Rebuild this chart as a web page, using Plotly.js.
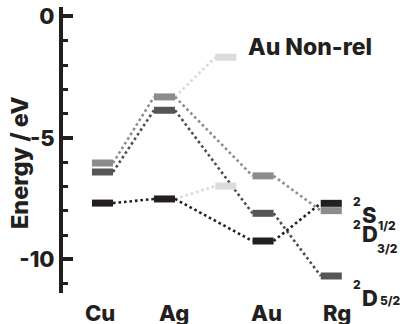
<!DOCTYPE html>
<html>
<head>
<meta charset="utf-8">
<script src="https://cdn.plot.ly/plotly-3.0.1.min.js"></script>
<style>html,body{margin:0;padding:0;background:#fff;}#chart{width:402px;height:324px;}</style>
</head>
<body>
<div id="chart"></div>
<script>
// ---- data ----
const categories = ['Cu', 'Ag', 'Au', 'Rg'];
const categoryX = [1, 2, 3.59, 4.69];          // column positions of relativistic levels
const categoryLabelX = [0.96, 2.15, 3.65, 4.79]; // label positions under columns
const levelD32 = [-6.03, -3.31, -6.56, -7.99];  // 2D3/2 (light grey)
const levelD52 = [-6.40, -3.86, -8.10, -10.68]; // 2D5/2 (dark grey)
const levelS12 = [-7.68, -7.51, -9.24, -7.69];  // 2S1/2 (black)
const nonRelX = 2.99;                            // Au non-relativistic column
const nonRelLevels = [-1.68, -6.98];             // D, S (non-relativistic Au)
const nonRelFrom = [-3.31, -7.51];               // Ag levels they connect from
const yTickVals = [0, -5, -10];
const yTickText = ['0', '-5', '-10'];

// ---- styling ----
const HALF = 0.17;
const INK = '#231f20';
const FONT = 'Inter, Liberation Sans, Arial, sans-serif';
const WEIGHT = 800;
const series = [
  {vals: levelD32, color: '#8c8c8c', dot: '#8c8c8c'},
  {vals: levelD52, color: '#555555', dot: '#4d4d4d'},
  {vals: levelS12, color: INK, dot: INK}
];

const traces = [];
function connector(xs, ys, color) {
  traces.push({type: 'scatter', mode: 'lines', x: xs, y: ys, hoverinfo: 'skip', showlegend: false,
    line: {color: color, width: 2.6, dash: '2.6px,2.9px'}});
}
function bars(xs, ys, color) {
  traces.push({type: 'scatter', mode: 'lines', x: xs, y: ys, hoverinfo: 'skip', showlegend: false,
    line: {color: color, width: 7}});
}
// non-relativistic connectors
{
  const xs = [], ys = [];
  for (let i = 0; i < nonRelLevels.length; i++) {
    xs.push(categoryX[1] + HALF, nonRelX - HALF, null);
    ys.push(nonRelFrom[i], nonRelLevels[i], null);
  }
  connector(xs, ys, '#d9d9d9');
}
// relativistic connectors
series.forEach(s => {
  const xs = [], ys = [];
  for (let i = 0; i < categoryX.length - 1; i++) {
    xs.push(categoryX[i] + HALF, categoryX[i + 1] - HALF, null);
    ys.push(s.vals[i], s.vals[i + 1], null);
  }
  connector(xs, ys, s.dot);
});
// bars
{
  const xs = [], ys = [];
  nonRelLevels.forEach(v => { xs.push(nonRelX - HALF, nonRelX + HALF, null); ys.push(v, v, null); });
  bars(xs, ys, '#dcdcdc');
}
series.forEach(s => {
  const xs = [], ys = [];
  s.vals.forEach((v, i) => { xs.push(categoryX[i] - HALF, categoryX[i] + HALF, null); ys.push(v, v, null); });
  bars(xs, ys, s.color);
});

// ---- layout ----
const W = 402, H = 324, ML = 63, MR = 0, MT = 7, MB = 31;
const px = x => (x - ML) / (W - ML - MR);
const py = y => 1 - (y - MT) / (H - MT - MB);
const bold = (size) => ({family: FONT, size: size, color: INK, weight: WEIGHT});

const annotations = [];
function ann(text, x, y, size, extra) {
  annotations.push(Object.assign({text: text, xref: 'paper', yref: 'paper', x: px(x), y: py(y),
    xanchor: 'center', yanchor: 'middle', showarrow: false, font: bold(size)}, extra || {}));
}
ann('Au Non-rel', 310, 47, 23);
ann('Energy / eV', 19.5, 162.5, 23.5, {textangle: -90});
categories.forEach((c, i) => {
  annotations.push({text: c, xref: 'x', yref: 'paper', x: categoryLabelX[i], y: py(313),
    xanchor: 'center', yanchor: 'middle', showarrow: false, font: bold(22)});
});
// state labels
ann('2', 356.5, 201, 12); ann('S', 369, 214.5, 22); ann('1/2', 386.5, 225.5, 12);
ann('2', 356.5, 225, 12); ann('D', 369.5, 233.5, 22); ann('3/2', 387, 248, 12);
ann('2', 356.5, 284.5, 12); ann('D', 370, 298, 22); ann('5/2', 390, 300.5, 12);

const layout = {
  width: W, height: H,
  margin: {l: ML, r: MR, t: MT, b: MB, pad: 0},
  paper_bgcolor: '#fff', plot_bgcolor: '#fff',
  showlegend: false,
  xaxis: {range: [0.363, 5.831], visible: false, fixedrange: true},
  yaxis: {
    range: [-11.38, 0.39], showgrid: false, zeroline: false,
    showline: true, linewidth: 4, linecolor: INK,
    tickmode: 'array', tickvals: yTickVals, ticktext: yTickText,
    ticks: 'inside', ticklen: 10, tickwidth: 4, tickcolor: INK,
    tickfont: bold(22),
    minor: {dtick: 1, tick0: 0, ticks: 'inside', ticklen: 5, tickwidth: 3, tickcolor: INK, showgrid: false}
  },
  annotations: annotations
};
Plotly.newPlot('chart', traces, layout, {staticPlot: true, displayModeBar: false});
</script>
</body>
</html>
